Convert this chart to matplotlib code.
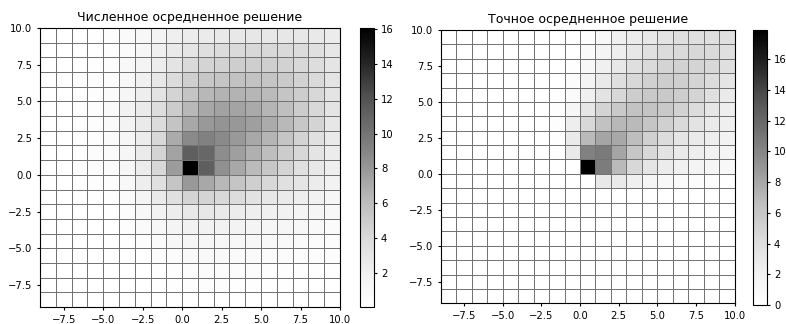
import numpy as np
import matplotlib
matplotlib.use('Agg')
import matplotlib.pyplot as plt

# границы ячеек сетки
x_edges = np.arange(-9, 11)
y_edges = np.arange(-9, 11)

# численное решение, строки сверху (y=9) вниз (y=-9), столбцы x=-9..9
num_rows = [
    [0.1, 0.1, 0.2, 0.3, 0.4, 0.76, 1.15, 1.55, 2.2, 2.45, 2.55, 2.7, 2.8, 2.95, 2.95, 2.95, 2.95, 2.7, 2.45],
    [0.1, 0.1, 0.15, 0.2, 0.3, 0.76, 1.3, 2.1, 2.6, 3.05, 3.55, 3.8, 4.0, 4.15, 4.15, 4.0, 3.8, 3.5, 2.95],
    [0.1, 0.15, 0.2, 0.3, 0.4, 1.0, 1.55, 2.35, 3.2, 4.0, 4.4, 4.6, 4.85, 4.85, 4.8, 4.6, 4.15, 3.75, 3.05],
    [0.1, 0.15, 0.25, 0.35, 0.55, 1.15, 2.1, 2.8, 3.8, 4.8, 5.35, 5.55, 5.75, 5.7, 5.5, 5.15, 4.6, 4.0, 3.2],
    [0.1, 0.15, 0.25, 0.4, 0.65, 1.4, 2.25, 3.2, 4.45, 5.6, 6.35, 6.6, 6.6, 6.45, 6.15, 5.55, 4.9, 4.15, 3.2],
    [0.1, 0.2, 0.3, 0.45, 0.8, 1.8, 2.6, 3.75, 5.05, 6.35, 7.15, 7.5, 7.35, 7.05, 6.5, 5.9, 5.05, 4.15, 3.2],
    [0.1, 0.2, 0.3, 0.45, 0.76, 1.7, 2.6, 3.8, 5.6, 7.15, 7.9, 8.15, 8.0, 7.6, 7.0, 6.3, 5.35, 4.4, 2.95],
    [0.1, 0.2, 0.3, 0.45, 0.6, 1.4, 2.45, 4.15, 7.0, 8.7, 9.3, 8.7, 7.9, 7.15, 6.5, 5.55, 4.55, 3.5, 2.6],
    [0.1, 0.2, 0.3, 0.5, 0.6, 1.4, 2.55, 4.4, 7.45, 11.3, 10.8, 8.6, 7.6, 6.75, 6.05, 5.05, 4.15, 3.2, 2.45],
    [0.1, 0.2, 0.3, 0.5, 0.5, 1.3, 2.45, 4.15, 7.8, 16.05, 11.3, 8.4, 7.15, 6.2, 5.35, 4.4, 3.5, 2.8, 2.2],
    [0.1, 0.15, 0.25, 0.4, 0.4, 1.0, 2.25, 3.5, 5.55, 7.9, 7.15, 6.35, 5.55, 4.8, 4.15, 3.5, 3.05, 2.45, 1.8],
    [0.1, 0.1, 0.2, 0.3, 0.3, 0.76, 1.55, 2.6, 3.5, 4.4, 4.4, 4.15, 3.8, 3.3, 2.95, 2.6, 2.25, 1.8, 1.4],
    [0.1, 0.1, 0.15, 0.2, 0.25, 0.55, 1.15, 1.8, 2.35, 2.8, 2.8, 2.6, 2.45, 2.25, 2.1, 1.8, 1.55, 1.3, 1.0],
    [0.1, 0.1, 0.1, 0.15, 0.2, 0.4, 0.8, 1.2, 1.6, 1.9, 1.9, 1.8, 1.7, 1.6, 1.4, 1.3, 1.1, 0.9, 0.7],
    [0.1, 0.1, 0.1, 0.1, 0.15, 0.25, 0.5, 0.8, 1.1, 1.3, 1.3, 1.25, 1.2, 1.1, 1.0, 0.9, 0.8, 0.6, 0.5],
    [0.1, 0.1, 0.1, 0.1, 0.1, 0.15, 0.3, 0.5, 0.7, 0.85, 0.9, 0.85, 0.8, 0.75, 0.7, 0.6, 0.5, 0.4, 0.35],
    [0.1, 0.1, 0.1, 0.1, 0.1, 0.1, 0.2, 0.3, 0.45, 0.55, 0.6, 0.55, 0.5, 0.5, 0.45, 0.4, 0.35, 0.3, 0.25],
    [0.1, 0.1, 0.1, 0.1, 0.1, 0.1, 0.15, 0.2, 0.3, 0.35, 0.35, 0.35, 0.3, 0.3, 0.3, 0.25, 0.2, 0.2, 0.15],
    [0.1, 0.1, 0.1, 0.1, 0.1, 0.1, 0.1, 0.15, 0.2, 0.2, 0.2, 0.2, 0.2, 0.2, 0.15, 0.15, 0.15, 0.1, 0.1],
]

# точное решение, тот же порядок
exact_rows = [
    [0] * 9 + [0.15, 1.05, 2.24, 2.65, 3.05, 3.55, 3.85, 3.95, 3.85, 3.85],
    [0] * 9 + [0.75, 1.65, 2.45, 3.05, 3.65, 4.15, 4.45, 4.6, 4.45, 3.85],
    [0] * 8 + [0.15, 1.05, 2.24, 3.05, 3.85, 4.45, 4.85, 5.05, 4.9, 4.6, 3.85],
    [0] * 8 + [0.45, 1.65, 2.85, 3.85, 4.6, 5.2, 5.4, 5.25, 4.9, 4.25, 3.35],
    [0] * 8 + [0.75, 2.24, 3.55, 4.6, 5.4, 5.8, 5.8, 5.4, 4.85, 3.85, 2.85],
    [0] * 7 + [0.15, 1.35, 3.25, 4.85, 5.8, 6.25, 6.2, 5.8, 5.05, 4.15, 3.25, 2.45],
    [0] * 7 + [0.3, 2.45, 4.6, 6.35, 7.0, 6.9, 6.1, 5.2, 4.45, 3.55, 2.85, 2.35],
    [0] * 7 + [0.15, 2.85, 6.9, 8.1, 7.95, 6.7, 5.2, 4.25, 3.35, 2.85, 2.45, 1.95],
    [0] * 7 + [0.0, 2.85, 10.3, 10.75, 8.1, 6.0, 4.6, 3.55, 2.85, 2.45, 1.95, 1.5],
    [0] * 8 + [0.0, 17.9, 10.6, 6.9, 4.6, 3.35, 2.65, 2.24, 1.65, 1.35, 1.05],
    [0] * 9 + [0.0, 3.05, 2.85, 2.24, 1.5, 1.05, 0.75, 0.45, 0.3, 0.15],
] + [[0] * 19 for _ in range(8)]

num = np.array(num_rows)[::-1]
exact = np.array(exact_rows, dtype=float)[::-1]

fig = plt.figure(figsize=(7.86, 3.24), dpi=100)

ax1 = fig.add_axes([0.0509, 0.0525, 0.3817, 0.861])
cax1 = fig.add_axes([0.458, 0.0535, 0.0178, 0.861])
ax2 = fig.add_axes([0.561, 0.0639, 0.3735, 0.8435])
cax2 = fig.add_axes([0.958, 0.0586, 0.0178, 0.849])

for ax, cax, z, title in [(ax1, cax1, num, 'Численное осредненное решение'),
                          (ax2, cax2, exact, 'Точное осредненное решение')]:
    m = ax.pcolormesh(x_edges, y_edges, z, cmap='Greys',
                      edgecolors='0.45', linewidth=0.7)
    ax.set_xlim(-9, 10)
    ax.set_ylim(-9, 10)
    ax.set_title(title, fontsize=9, pad=5)
    ax.tick_params(labelsize=7.2, length=2.5, pad=3)
    cb = fig.colorbar(m, cax=cax)
    cb.ax.tick_params(labelsize=7.2, length=2.5, pad=2.5)

plt.savefig('out.png', dpi=100)
